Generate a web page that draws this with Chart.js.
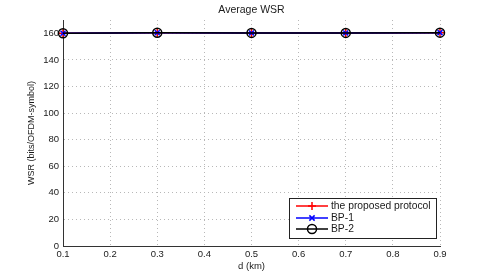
<!DOCTYPE html>
<html>
<head>
<meta charset="utf-8">
<script src="https://cdn.jsdelivr.net/npm/chart.js@4"></script>
<style>
html,body{margin:0;padding:0;background:#fff;}
#wrap{width:485px;height:277px;}
</style>
</head>
<body>
<div id="wrap"><canvas id="wsr" width="485" height="277"></canvas></div>
<script>
// distances (km)
const distances = [0.1, 0.3, 0.5, 0.7, 0.9];
// average WSR values
const proposed = [160.0, 160.4, 160.3, 160.3, 160.5];
const bp1 = [160.0, 160.4, 160.3, 160.3, 160.5];
const bp2 = [160.0, 160.4, 160.3, 160.3, 160.5];
const seriesNames = ["the proposed protocol", "BP-1", "BP-2"];
const xTicks = [0.1, 0.2, 0.3, 0.4, 0.5, 0.6, 0.7, 0.8, 0.9];
const yTicks = [0, 20, 40, 60, 80, 100, 120, 140, 160];

const FONT = "'Liberation Sans', Arial, Helvetica, sans-serif";
const INK = "#1a1a1a";

function pts(vals){
  return distances.map((d,i) => ({x:d, y:vals[i]}));
}

function drawMarker(ctx, style, r, x, y){
  if (style === "cross") {
    ctx.moveTo(x - r, y); ctx.lineTo(x + r, y);
    ctx.moveTo(x, y - r); ctx.lineTo(x, y + r);
  } else if (style === "crossRot") {
    const d = r * 0.75;
    ctx.moveTo(x - d, y - d); ctx.lineTo(x + d, y + d);
    ctx.moveTo(x - d, y + d); ctx.lineTo(x + d, y - d);
  } else {
    ctx.arc(x, y, r, 0, Math.PI * 2);
  }
}

/* ======================
   TEXT + LEGEND (matlab style)
====================== */
const matlabDecor = {
  id: "matlabDecor",
  afterDraw(chart){
    const ctx = chart.ctx;
    const a = chart.chartArea;
    ctx.save();
    ctx.fillStyle = INK;
    ctx.textAlign = "center";
    ctx.textBaseline = "middle";
    ctx.font = "10.5px " + FONT;
    ctx.fillText("Average WSR", (a.left + a.right) / 2, 10);
    ctx.font = "9.5px " + FONT;
    ctx.fillText("d (km)", (a.left + a.right) / 2, 266);
    ctx.translate(32, (a.top + a.bottom) / 2);
    ctx.rotate(-Math.PI / 2);
    ctx.font = "9px " + FONT;
    ctx.fillText("WSR (bits/OFDM-symbol)", 0, 0);
    ctx.restore();

    // legend box
    const bx = 289, by = 198, bw = 147, bh = 40;
    ctx.save();
    ctx.fillStyle = "#fff";
    ctx.fillRect(bx, by, bw, bh);
    ctx.strokeStyle = "#222";
    ctx.lineWidth = 1;
    ctx.strokeRect(bx + 0.5, by + 0.5, bw, bh);
    const ds = chart.data.datasets;
    const rows = [206, 218, 229];
    for (let i = 0; i < 3; i++) {
      const y = rows[i];
      ctx.strokeStyle = ds[i].borderColor;
      ctx.lineWidth = 1.5;
      ctx.beginPath();
      ctx.moveTo(296, y);
      ctx.lineTo(328, y);
      ctx.stroke();
      ctx.lineWidth = ds[i].pointBorderWidth;
      ctx.beginPath();
      drawMarker(ctx, ds[i].pointStyle, ds[i].pointRadius, 312, y);
      ctx.stroke();
      ctx.fillStyle = INK;
      ctx.font = "10.3px " + FONT;
      ctx.textAlign = "left";
      ctx.textBaseline = "middle";
      ctx.fillText(seriesNames[i], 331, y + 0.5);
    }
    ctx.restore();
  }
};

new Chart(document.getElementById("wsr"), {
  type: "line",
  data: {
    datasets: [
      {
        label: seriesNames[0],
        data: pts(proposed),
        borderColor: "#ff0000",
        backgroundColor: "rgba(0,0,0,0)",
        borderWidth: 1.5,
        pointStyle: "cross",
        pointRadius: 4,
        pointBorderWidth: 1.5,
        order: 3,
        clip: false
      },
      {
        label: seriesNames[1],
        data: pts(bp1),
        borderColor: "#0000ff",
        backgroundColor: "rgba(0,0,0,0)",
        borderWidth: 1.5,
        pointStyle: "crossRot",
        pointRadius: 3.5,
        pointBorderWidth: 1.5,
        order: 2,
        clip: false
      },
      {
        label: seriesNames[2],
        data: pts(bp2),
        borderColor: "#000000",
        backgroundColor: "rgba(0,0,0,0)",
        borderWidth: 1.5,
        pointStyle: "circle",
        pointRadius: 4.5,
        pointBorderWidth: 1.5,
        order: 1,
        clip: false
      }
    ]
  },
  options: {
    responsive: false,
    animation: false,
    layout: { padding: { left: 0, right: 45, top: 20, bottom: 0 } },
    plugins: {
      legend: { display: false },
      title: { display: false },
      tooltip: { enabled: false }
    },
    scales: {
      x: {
        type: "linear",
        min: 0.1,
        max: 0.9,
        afterBuildTicks: s => { s.ticks = xTicks.map(v => ({value: v})); },
        afterFit: s => { s.height = 31; },
        grid: { color: "#b8b8b8", lineWidth: 1, drawTicks: false },
        border: { display: true, color: "#333", width: 1, dash: [1, 3] },
        ticks: {
          padding: 3,
          color: INK,
          font: { family: FONT, size: 9.5 },
          callback: v => v.toFixed(1)
        }
      },
      y: {
        min: 0,
        max: 170,
        afterBuildTicks: s => { s.ticks = yTicks.map(v => ({value: v})); },
        afterFit: s => { s.width = 63; },
        grid: { color: "#b8b8b8", lineWidth: 1, drawTicks: false },
        border: { display: true, color: "#333", width: 1, dash: [1, 3] },
        ticks: {
          padding: 4,
          color: INK,
          font: { family: FONT, size: 9.5 },
          callback: v => String(v)
        }
      }
    }
  },
  plugins: [matlabDecor]
});
</script>
</body>
</html>
